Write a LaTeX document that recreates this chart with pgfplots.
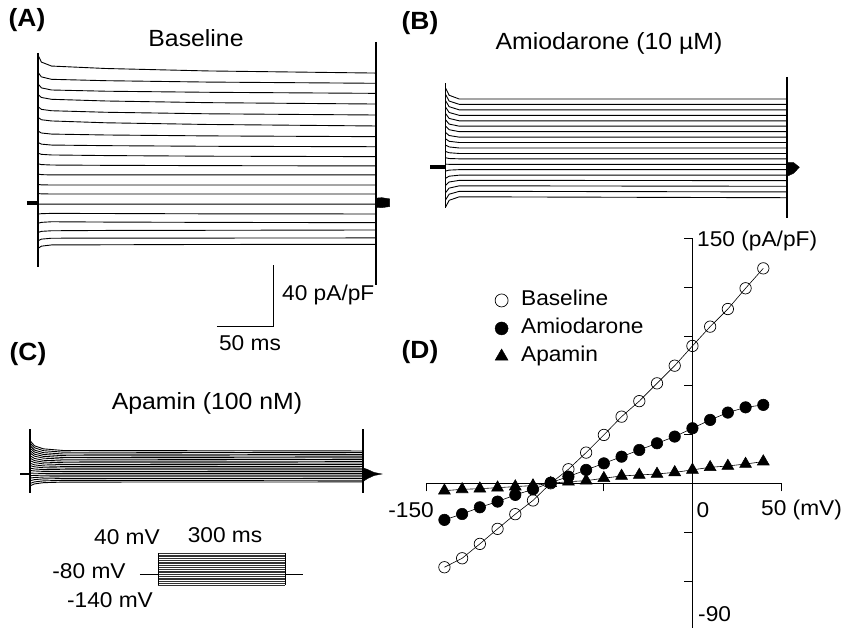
\documentclass[border=0pt]{standalone}
\usepackage{fontspec}
\setmainfont{Liberation Sans}[FakeStretch=1.06]
\usepackage{pgfplots}
\usepackage{pgfplotstable}
\pgfplotsset{compat=1.18}

% current traces, pA/pF vs ms (one column per test step, top = +40 mV)
\pgfplotstableread{
t a1 a2 a3 a4 a5 a6 a7 a8 a9 a10 a11 a12 a13 a14 a15 a16 a17 a18 a19
0   96.9 85.5 78.0 71.0 63.0 56.0 47.0 39.5 32.5 25.5 18.8 12.0 6.0 -1.0 -7.5 -13.5 -19.5 -25.0 -30.0
3   92.2 82.5 75.3 69.0 61.2 54.4 45.7 38.4 31.7 25.0 18.4 11.7 5.8 -0.9 -7.2 -12.9 -18.8 -23.9 -28.5
12  89.6 80.9 73.9 67.8 60.3 53.6 45.0 37.8 31.3 24.7 18.2 11.6 5.7 -0.9 -7.0 -12.5 -18.4 -23.3 -27.7
60  88.0 80.0 73.1 66.7 59.3 52.4 44.4 37.4 30.9 24.5 18.2 11.6 5.7 -0.9 -7.1 -12.7 -18.2 -23.2 -27.6
150 86.4 79.1 72.4 65.6 58.3 51.3 43.8 37.0 30.5 24.3 18.2 11.6 5.7 -0.9 -7.3 -12.9 -18.1 -23.2 -27.4
300 85.0 78.3 71.7 64.7 57.5 50.3 43.3 36.7 30.2 24.1 18.2 11.6 5.7 -0.9 -7.4 -13.1 -17.9 -23.1 -27.3
}\traceA

\pgfplotstableread{
t a1 a2 a3 a4 a5 a6 a7 a8 a9 a10 a11 a12 a13 a14 a15 a16 a17 a18 a19
0   50.7 46.6 42.5 38.3 34.1 30.0 25.9 21.7 17.6 13.5 9.3 5.2 1.0 -3.5 -8.2 -12.8 -17.6 -22.3 -27.1
3   46.2 42.4 38.7 34.9 31.0 27.3 23.6 19.8 16.0 12.3 8.5 4.7 0.9 -2.9 -6.9 -10.7 -14.7 -18.7 -22.7
12  43.7 40.2 36.6 33.0 29.4 25.9 22.3 18.7 15.2 11.6 8.0 4.5 0.9 -2.6 -6.2 -9.6 -13.2 -16.8 -20.4
300 43.7 40.2 36.6 33.0 29.4 25.9 22.3 18.7 15.2 11.6 8.0 4.5 0.9 -2.6 -6.2 -9.8 -13.5 -17.2 -21.0
}\traceB

\pgfplotstableread{
t a1 a2 a3 a4 a5 a6 a7 a8 a9 a10 a11 a12 a13 a14 a15 a16 a17 a18 a19
0   21.9 20.3 18.6 17.0 15.4 13.8 12.0 10.4 8.8 7.1 5.5 3.9 2.3 0.6 -1.1 -2.7 -4.4 -6.2 -7.8
4   18.5 17.2 15.7 14.4 13.0 11.7 10.2 8.8 7.5 6.0 4.7 3.3 2.0 0.5 -0.9 -2.3 -3.7 -5.2 -6.5
12  16.5 15.3 14.0 12.8 11.6 10.4 9.0 7.8 6.6 5.3 4.1 2.9 1.7 0.4 -0.8 -2.0 -3.2 -4.5 -5.7
30  15.4 14.3 13.1 12.0 10.8 9.7 8.5 7.4 6.2 5.0 3.9 2.8 1.6 0.4 -0.7 -1.8 -3.0 -4.2 -5.3
300 15.1 14.0 12.8 11.7 10.6 9.5 8.3 7.2 6.1 4.9 3.8 2.7 1.6 0.4 -0.7 -1.8 -2.9 -4.1 -5.2
}\traceC

% I-V relation
\pgfplotstableread{
v base amio apa
-140 -51.4 -22.4 -4.5
-130 -45.9 -18.8 -3.7
-120 -37.1 -14.7 -3.3
-110 -27.9 -11.2 -2.7
-100 -18.9 -7.1 -2.0
-90 -10.5 -3.7 -1.4
-80 0.0 0.4 0.0
-70 8.6 4.1 1.0
-60 18.8 8.2 1.6
-50 29.6 12.2 3.1
-40 40.8 16.3 4.5
-30 50.3 20.4 5.1
-20 61.2 24.5 5.7
-10 72.0 28.6 6.7
0 84.1 33.7 8.2
10 95.9 38.8 9.8
20 106.7 43.3 10.6
30 119.4 46.5 11.8
40 131.6 48.0 13.3
}\ivdata

\pgfplotsset{
  trace/.style={hide axis, scale only axis, clip=false, anchor=south west},
  tr/.style={black, line width=0.9bp},
}

\begin{document}
\begin{tikzpicture}
\path[use as bounding box] (0,0) rectangle (842bp,628bp);

% (A) baseline
\begin{axis}[trace, at={(15.46bp,288.05bp)}, width=383.2bp, height=305bp,
  xmin=-20, xmax=320, ymin=-90, ymax=110]
  \pgfplotsinvokeforeach{1,...,19}{\addplot[tr] table[x=t, y=a#1] {\traceA};}
  \addplot[black, line width=1.4bp] coordinates {(0,98.2) (0,-42.2)};
  \addplot[black, line width=1.4bp] coordinates {(300,105.4) (300,-54)};
  \addplot[black, line width=4bp] coordinates {(-9.8,0) (0,0)};
  \addplot[black, fill=black] coordinates {(300,3) (305,3.3) (312,2.5) (312,-2.5) (305,-3.3) (300,-3) (300,3)};
  % scale bar
  \addplot[black, line width=0.9bp] coordinates {(158.8,-80.9) (208.8,-80.9) (208.8,-40.9)};
\end{axis}

% (B) amiodarone
\begin{axis}[trace, at={(422.96bp,401.3bp)}, width=386.6bp, height=167.75bp,
  xmin=-20, xmax=320, ymin=-40, ymax=70]
  \pgfplotsinvokeforeach{1,...,19}{\addplot[tr] table[x=t, y=a#1] {\traceB};}
  \addplot[black, line width=1.4bp] coordinates {(0,54.2) (0,-27.9)};
  \addplot[black, line width=1.4bp] coordinates {(300,58.2) (300,-34.3)};
  \addplot[black, line width=4bp] coordinates {(-13.8,-1) (0,-1)};
  \addplot[black, fill=black] coordinates {(300,2) (306,2) (311,-1) (306,-5) (300,-7) (300,2)};
\end{axis}

% (C) apamin
\begin{axis}[trace, at={(7.8bp,123.5bp)}, width=377.4bp, height=91.5bp,
  xmin=-20, xmax=320, ymin=-20, ymax=40]
  \pgfplotsinvokeforeach{1,...,19}{\addplot[tr] table[x=t, y=a#1] {\traceC};}
  \addplot[black, line width=1.4bp] coordinates {(0,29.5) (0,-12.5)};
  \addplot[black, line width=1.4bp] coordinates {(300,29.5) (300,-12.5)};
  \addplot[black, line width=1.2bp] coordinates {(-9,0) (0,0)};
  \addplot[black, fill=black] coordinates {(300,4) (304,3) (310,1) (317,0) (310,-1) (304,-3) (300,-5) (300,4)};
\end{axis}

% voltage protocol
\begin{axis}[trace, at={(136.8bp,41.2bp)}, width=169.3bp, height=35.56bp,
  xmin=-50, xmax=350, ymin=-150, ymax=50]
  \pgfplotsinvokeforeach{-140,-130,...,40}{\addplot[black!80, line width=0.4bp] coordinates {(0,#1) (300,#1)};}
  \addplot[black, line width=0.7bp] coordinates {(0,-140) (0,40)};
  \addplot[black, line width=0.7bp] coordinates {(300,-140) (300,40)};
  \addplot[black, line width=0.7bp] coordinates {(-42.5,-80) (0,-80)};
  \addplot[black, line width=0.7bp] coordinates {(300,-80) (342.5,-80)};
\end{axis}

% (D) I-V
\begin{axis}[at={(426.7bp,-2.3bp)}, anchor=south west, scale only axis,
  width=354.3bp, height=392bp,
  xmin=-150, xmax=50, ymin=-90, ymax=150,
  axis lines=middle, axis line style={-, line width=0.8bp},
  xtick={-150,-100,-50,0,50}, ytick={-90,-60,...,150},
  xticklabels={}, yticklabels={},
  tick align=outside, major tick length=8bp,
  tick style={black, line width=0.8bp},
  clip=false,
  legend cell align=left,
  legend style={draw=none, fill=none, inner sep=0pt,
    at={(axis cs:-111.5,118.5)}, anchor=north west,
    font=\fontsize{21.5}{25}\selectfont, row sep=7bp,
    nodes={text height=15bp, text depth=4bp, inner sep=1bp},
    /tikz/every odd column/.append style={column sep=12bp}},
]
  \addplot[black, line width=0.6bp, mark=o, mark size=5.7bp, mark options={line width=0.7bp}, forget plot]
    table[x=v, y=base] {\ivdata};
  \addplot[black, line width=0.6bp, mark=*, mark size=5.7bp, forget plot]
    table[x=v, y=amio] {\ivdata};
  \addplot[black, line width=0.6bp, mark=triangle*, mark size=6.8bp, forget plot]
    table[x=v, y=apa] {\ivdata};
  \addlegendimage{only marks, black, mark=o, mark size=6.5bp, mark options={line width=0.7bp}}
  \addlegendimage{only marks, black, mark=*, mark size=6.5bp}
  \addlegendimage{only marks, black, mark=triangle*, mark size=7.5bp}
  \legend{Baseline, Amiodarone, Apamin}
\end{axis}

% texts
\begin{scope}[every node/.style={inner sep=0pt, font=\fontsize{21.5}{25}\selectfont}]
\node[font=\fontsize{25}{29}\selectfont\bfseries] at (27bp,608bp) {(A)};
\node[font=\fontsize{25}{29}\selectfont\bfseries] at (420bp,605bp) {(B)};
\node[font=\fontsize{25}{29}\selectfont\bfseries] at (28bp,274bp) {(C)};
\node[font=\fontsize{25}{29}\selectfont\bfseries] at (420bp,276bp) {(D)};
\node[font=\fontsize{23.5}{27}\selectfont] at (196bp,590bp) {Baseline};
\node[font=\fontsize{23.5}{27}\selectfont] at (609bp,585bp) {Amiodarone (10 µM)};
\node[font=\fontsize{23.5}{27}\selectfont] at (207bp,225bp) {Apamin (100 nM)};
\node[anchor=west] at (282bp,333bp) {40 pA/pF};
\node at (250bp,285bp) {50 ms};
\node at (127bp,91bp) {40 mV};
\node at (225bp,93bp) {300 ms};
\node at (89bp,57bp) {-80 mV};
\node at (110bp,28bp) {-140 mV};
\node[anchor=east] at (434bp,118bp) {-150};
\node at (703bp,118bp) {0};
\node[anchor=west] at (761bp,118bp) {50 (mV)};
\node[anchor=west] at (697bp,387bp) {150 (pA/pF)};
\node[anchor=west] at (698bp,14bp) {-90};
\end{scope}
\end{tikzpicture}
\end{document}
